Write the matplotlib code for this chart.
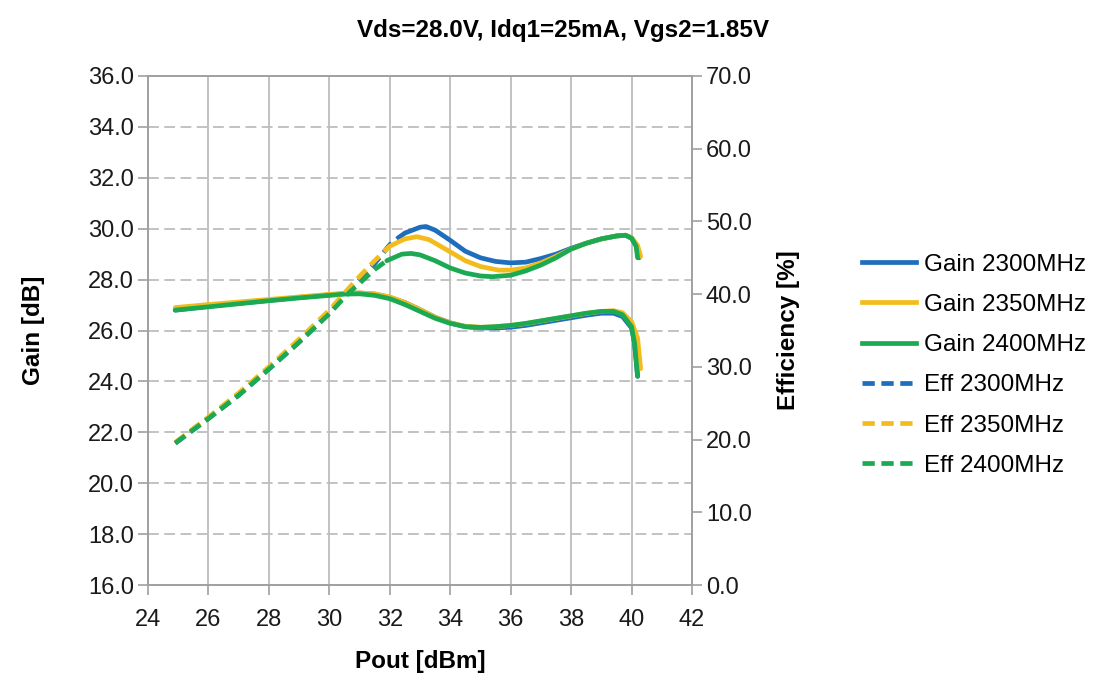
import matplotlib
matplotlib.use("Agg")
import matplotlib.pyplot as plt
from matplotlib.lines import Line2D

plt.rcParams['font.family'] = ['Liberation Sans', 'DejaVu Sans']

title = "Vds=28.0V, Idq1=25mA, Vgs2=1.85V"
freqs = ["2300MHz", "2350MHz", "2400MHz"]

# Gain curves (dB) vs Pout (dBm)
pout_g2300 = [24.9, 26, 27, 28, 29, 30, 30.5, 31, 31.5, 32, 32.5, 33, 33.5, 34, 34.5, 35, 35.5, 36,
              36.5, 37, 37.5, 38, 38.5, 39, 39.4, 39.7, 40.0, 40.1, 40.2]
gain_2300 = [26.8, 26.95, 27.07, 27.18, 27.3, 27.4, 27.45, 27.47, 27.43, 27.3, 27.1, 26.82, 26.52, 26.3,
             26.15, 26.1, 26.1, 26.13, 26.2, 26.3, 26.4, 26.5, 26.6, 26.68, 26.68, 26.55, 26.1, 25.5, 24.2]
pout_g2350 = [24.9, 26, 27, 28, 29, 30, 30.5, 31, 31.5, 32, 32.5, 33, 33.5, 34, 34.5, 35, 35.5, 36,
              36.5, 37, 37.5, 38, 38.5, 39, 39.4, 39.7, 40.0, 40.2, 40.3]
gain_2350 = [26.9, 27.02, 27.12, 27.22, 27.32, 27.42, 27.46, 27.48, 27.44, 27.32, 27.1, 26.82, 26.52, 26.3,
             26.17, 26.13, 26.15, 26.2, 26.27, 26.37, 26.47, 26.57, 26.67, 26.75, 26.78, 26.7, 26.35, 25.7, 24.5]
pout_g2400 = [24.9, 26, 27, 28, 29, 30, 30.5, 31, 31.5, 32, 32.5, 33, 33.5, 34, 34.5, 35, 35.5, 36,
              36.5, 37, 37.5, 38, 38.5, 39, 39.4, 39.7, 40.0, 40.1, 40.2]
gain_2400 = [26.8, 26.93, 27.05, 27.17, 27.28, 27.38, 27.43, 27.44, 27.38, 27.25, 27.02, 26.75, 26.48, 26.28,
             26.15, 26.12, 26.15, 26.2, 26.28, 26.38, 26.48, 26.58, 26.68, 26.75, 26.75, 26.62, 26.15, 25.5, 24.2]

# Efficiency curves (%) vs Pout (dBm)
pout_e2300 = [24.9, 26, 27, 28, 29, 30, 30.6, 31, 31.5, 32, 32.3, 32.5, 33, 33.2, 33.5, 34, 34.5, 35, 35.5,
              36, 36.5, 37, 37.5, 38, 38.5, 39, 39.5, 39.8, 40.0, 40.15, 40.25]
eff_2300 = [19.5, 22.9, 26.1, 29.7, 33.4, 37.4, 40.2, 42.0, 44.2, 46.8, 47.8, 48.4, 49.2, 49.3, 48.8, 47.4,
            45.9, 45.0, 44.5, 44.3, 44.4, 44.9, 45.5, 46.3, 47.0, 47.6, 48.0, 48.1, 47.7, 46.7, 45.0]
pout_e2350 = [24.9, 26, 27, 28, 29, 30, 30.9, 31.5, 32, 32.5, 32.9, 33.3, 33.8, 34.5, 35, 35.6, 36, 36.5,
              37, 37.5, 38, 38.5, 39, 39.5, 39.8, 40.0, 40.2, 40.3]
eff_2350 = [19.6, 23.1, 26.4, 30.0, 33.8, 37.8, 42.0, 44.6, 46.6, 47.6, 47.9, 47.5, 46.3, 44.6, 43.8, 43.3,
            43.3, 43.6, 44.3, 45.2, 46.2, 47.0, 47.6, 48.0, 48.1, 47.8, 46.7, 45.2]
pout_e2400 = [24.9, 26, 27, 28, 29, 30, 30.6, 31, 31.5, 31.9, 32.4, 32.7, 33.0, 33.5, 34, 34.5, 35, 35.4,
              36, 36.5, 37, 37.5, 38, 38.5, 39, 39.5, 39.8, 40.0, 40.15, 40.2]
eff_2400 = [19.5, 22.9, 26.1, 29.7, 33.4, 37.3, 40.0, 41.5, 43.4, 44.6, 45.5, 45.6, 45.4, 44.6, 43.6, 42.9,
            42.5, 42.4, 42.6, 43.2, 44.0, 45.0, 46.2, 47.0, 47.6, 48.0, 48.1, 47.7, 46.6, 45.0]

# Styling
colors = ["#1F6EBD", "#F2BD1C", "#1BAA52"]
dash_until = [32.3, 32.0, 31.9]   # efficiency drawn dashed up to this Pout, solid afterwards
grid_col = "#BDBDBD"
spine_col = "#A0A0A0"
lw = 3.4
dash = (0, (2.6, 1.4))

fig = plt.figure(figsize=(11.13, 6.89), dpi=100)
ax = fig.add_axes([148 / 1113, 1 - 585 / 689, (692 - 148) / 1113, (585 - 76) / 689])
ax2 = ax.twinx()

ax.set_xlim(24, 42)
ax.set_ylim(16, 36)
ax2.set_ylim(0, 70)
ax.set_xticks(range(24, 43, 2))
ax.set_yticks(range(16, 37, 2))
ax2.set_yticks(range(0, 71, 10))
ax.set_yticklabels([f"{v:.1f}" for v in range(16, 37, 2)])
ax2.set_yticklabels([f"{v:.1f}" for v in range(0, 71, 10)])

for a in (ax, ax2):
    for s in a.spines.values():
        s.set_color(spine_col)
        s.set_linewidth(1.2)
    a.tick_params(axis='both', direction='out', length=7, width=1.2, color=spine_col,
                  labelsize=17, colors=spine_col, labelcolor="#1a1a1a", pad=3)
ax.tick_params(axis='x', pad=10)

# grid
for xv in range(26, 42, 2):
    ax.axvline(xv, color=grid_col, lw=1.3, zorder=0)
for yv in range(18, 36, 2):
    ax.axhline(yv, color=grid_col, lw=1.3, ls=(0, (6, 3)), zorder=0)

gain_x = [pout_g2300, pout_g2350, pout_g2400]
gain_y = [gain_2300, gain_2350, gain_2400]
eff_x = [pout_e2300, pout_e2350, pout_e2400]
eff_y = [eff_2300, eff_2350, eff_2400]

for i in range(3):
    ax2.plot(gain_x[i], [(g - 16) / 20 * 70 for g in gain_y[i]], color=colors[i], lw=lw,
             solid_capstyle='round', zorder=2 + i)
for i in range(3):
    xs, ys = eff_x[i], eff_y[i]
    k = max(j for j, x in enumerate(xs) if x <= dash_until[i])
    ax2.plot(xs[:k + 1], ys[:k + 1], color=colors[i], lw=lw, ls=dash, zorder=5 + i)
    ax2.plot(xs[k:], ys[k:], color=colors[i], lw=lw, solid_capstyle='round', zorder=5 + i)

ax.set_xlabel("Pout [dBm]", fontsize=17.5, fontweight='bold', labelpad=14)
ax.set_ylabel("Gain [dB]", fontsize=17.5, fontweight='bold', labelpad=31)
ax2.set_ylabel("Efficiency [%]", fontsize=17.5, fontweight='bold', labelpad=18)
fig.text(0.506, 0.956, title, ha='center', va='center', fontsize=17.5, fontweight='bold')

handles = []
labels = []
for i, f in enumerate(freqs):
    handles.append(Line2D([], [], color=colors[i], lw=lw))
    labels.append(f"Gain {f}")
for i, f in enumerate(freqs):
    handles.append(Line2D([], [], color=colors[i], lw=lw, ls=dash))
    labels.append(f"Eff {f}")
fig.legend(handles, labels, loc='center left', bbox_to_anchor=(0.755, 0.47), frameon=False,
           fontsize=17.5, handlelength=2.2, handletextpad=0.35, labelspacing=0.75)

fig.savefig("out.png", dpi=100, facecolor='white')
